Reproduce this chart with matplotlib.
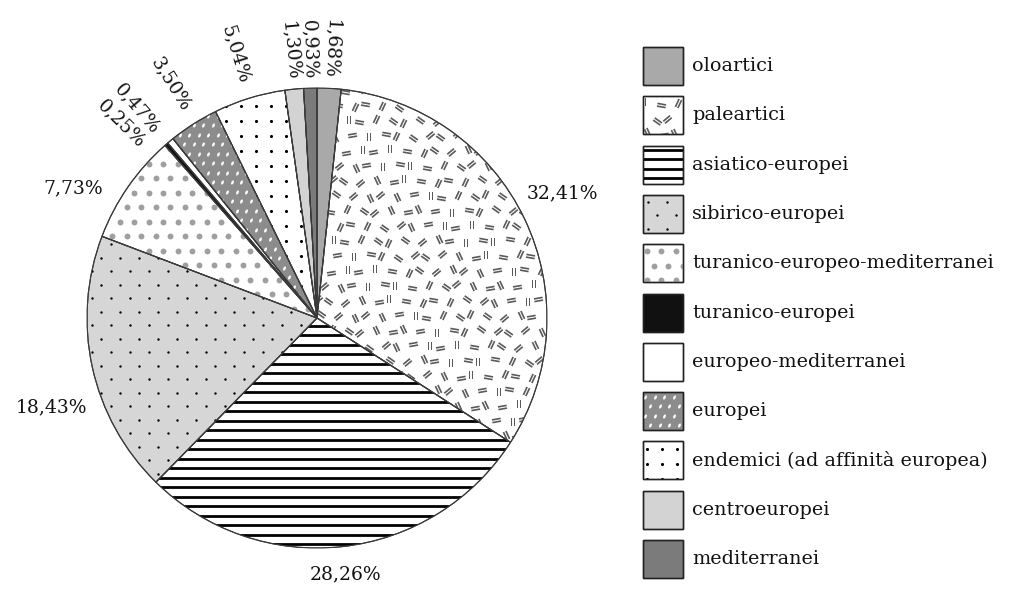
import numpy as np
import matplotlib
matplotlib.use('Agg')
import matplotlib.pyplot as plt
from matplotlib.patches import Rectangle, Wedge
from matplotlib.markers import MarkerStyle
from matplotlib.transforms import Affine2D
from matplotlib.path import Path

# data (clockwise from 12 o'clock, same order as the legend)
categories = ['oloartici', 'paleartici', 'asiatico-europei', 'sibirico-europei',
              'turanico-europeo-mediterranei', 'turanico-europei',
              'europeo-mediterranei', 'europei', 'endemici (ad affinità europea)',
              'centroeuropei', 'mediterranei']
percent = [1.68, 32.41, 28.26, 18.43, 7.73, 0.25, 0.47, 3.50, 5.04, 1.30, 0.93]
pct_labels = [('%.2f%%' % p).replace('.', ',') for p in percent]

# fill colour and texture for each category
faces = ['#a9a9a9', 'white', 'white', '#d6d6d6', 'white', '#111111',
         'white', '#8c8c8c', 'white', '#d3d3d3', '#7b7b7b']
textures = [None, 'bars', 'hlines', 'sdots', 'circles', None,
            None, 'speckle', 'dots', None, None]

SERIF = 'DejaVu Serif'

# custom marker: two short parallel bars
bars = Path([(-0.5, -1), (-0.12, -1), (-0.12, 1), (-0.5, 1), (-0.5, -1),
             (0.12, -1), (0.5, -1), (0.5, 1), (0.12, 1), (0.12, -1)],
            [1, 2, 2, 2, 79, 1, 2, 2, 2, 79])
oval = Path.unit_circle()


def grid(bounds, sx, sy=None, stagger=False):
    sy = sy or sx
    x0, x1, y0, y1 = bounds
    xs, ys = [], []
    for j, y in enumerate(np.arange(y0 + sy / 2, y1, sy)):
        off = sx / 2 if (stagger and j % 2) else 0
        for x in np.arange(x0 + sx / 4 + off, x1, sx):
            xs.append(x)
            ys.append(y)
    return np.array(xs), np.array(ys)


def texture(ax, patch, kind, bounds, px):
    arts = []
    if kind == 'bars':
        xs, ys = grid(bounds, 15 * px, stagger=True)
        idx = np.arange(len(xs))
        xs = xs + ((idx * 37) % 7 - 3) * px
        ys = ys + ((idx * 23) % 5 - 2) * px
        angs = [0, 25, 55, 80, 100, 130, 155]
        for k, a in enumerate(angs):
            sel = (idx * 3 + idx // 7) % len(angs) == k
            m = MarkerStyle(bars, transform=Affine2D().rotate_deg(a))
            arts.append(ax.scatter(xs[sel], ys[sel], marker=m, s=40,
                                   color='#5a5a5a', linewidths=0, zorder=3))
    elif kind == 'hlines':
        x0, x1, y0, y1 = bounds
        yy = np.arange(y0 + 4 * px, y1, 9.5 * px)
        arts.append(ax.hlines(yy, x0, x1, color='black', lw=2.0, zorder=3))
    elif kind == 'sdots':
        xs, ys = grid(bounds, 19 * px, 13.5 * px, stagger=True)
        arts.append(ax.scatter(xs, ys, s=3, color='black', linewidths=0, zorder=3))
    elif kind == 'dots':
        xs, ys = grid(bounds, 15 * px)
        arts.append(ax.scatter(xs, ys, s=5, color='black', linewidths=0, zorder=3))
    elif kind == 'circles':
        xs, ys = grid(bounds, 14.5 * px, stagger=True)
        arts.append(ax.scatter(xs, ys, s=18, color='#9f9f9f', linewidths=0, zorder=3))
    elif kind == 'speckle':
        xs, ys = grid(bounds, 9.5 * px, stagger=True)
        m = MarkerStyle(oval, transform=Affine2D().scale(1, 0.55).rotate_deg(65))
        arts.append(ax.scatter(xs, ys, marker=m, s=10, color='white',
                               linewidths=0, zorder=3))
    for a in arts:
        a.set_clip_path(patch)


fig = plt.figure(figsize=(10.25, 5.93), dpi=100)

# legend drawn in pixel coordinates
axl = fig.add_axes([0, 0, 1, 1])
axl.set_xlim(0, 1025)
axl.set_ylim(593, 0)
axl.set_axis_off()
for i, name in enumerate(categories):
    top = 47 + i * 49.3
    r = Rectangle((643, top), 40, 38, facecolor=faces[i], edgecolor='#222222',
                  lw=1.0, zorder=2)
    axl.add_patch(r)
    if textures[i]:
        texture(axl, r, textures[i], (643, 683, top, top + 38), 1.0)
    axl.add_patch(Rectangle((643, top), 40, 38, fill=False, edgecolor='#222222',
                            lw=1.0, zorder=4))
    axl.text(692, top + 19, name, va='center', ha='left', fontsize=13.8,
             family=SERIF, color='#111111')

# pie
R_PX = 230.0
ax = fig.add_axes([87 / 1025, 45 / 593, 2 * R_PX / 1025, 2 * R_PX / 593])
wedges, _ = ax.pie(percent, startangle=90, counterclock=False, colors=faces,
                   wedgeprops=dict(edgecolor='#3a3a3a', lw=0.8))
px = 1 / R_PX
for w, kind in zip(wedges, textures):
    if kind:
        texture(ax, w, kind, (-1, 1, -1, 1), px)
    ax.add_patch(Wedge(w.center, w.r, w.theta1, w.theta2, fill=False,
                       edgecolor='#3a3a3a', lw=0.8, zorder=5))

# label placement: (radius, angle nudge in degrees)
place = {'32,41%': (1.06, 5), '28,26%': (1.12, 0), '18,43%': (1.07, 8.8),
         '7,73%': (1.09, 3.5), '0,25%': (1.07, 4.2), '0,47%': (1.07, 1.0),
         '3,50%': (1.07, -0.5)}
for w, p, lab in zip(wedges, percent, pct_labels):
    mid = (w.theta1 + w.theta2) / 2
    r, nudge = place.get(lab, (1.04 if p < 2 else 1.07, 0))
    a = np.deg2rad(mid + nudge)
    x, y = r * np.cos(a), r * np.sin(a)
    if p >= 7:
        ha = 'center' if abs(x) < 0.3 else ('left' if x > 0 else 'right')
        ax.text(x, y, lab, ha=ha, va='center', fontsize=13.5, family=SERIF,
                color='#111111')
    else:
        ax.text(x, y, lab, ha='right', va='center', rotation=mid + nudge - 180,
                rotation_mode='anchor', fontsize=13.5, family=SERIF,
                color='#111111')

ax.set_xlim(-1, 1)
ax.set_ylim(-1, 1)
ax.set_axis_off()

fig.savefig('out.png', dpi=100, facecolor='white')
